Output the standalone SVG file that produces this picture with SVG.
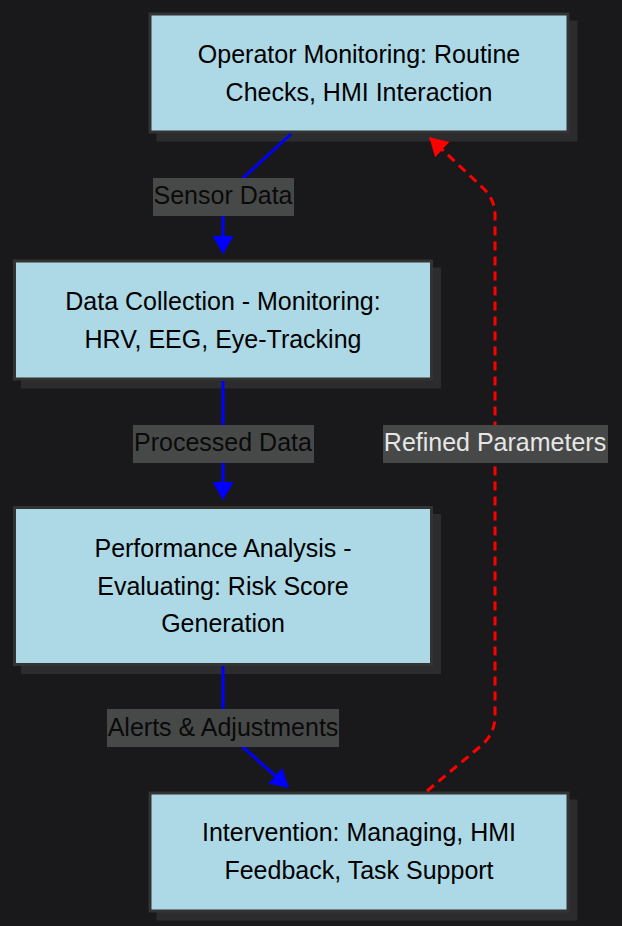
<svg xmlns="http://www.w3.org/2000/svg" width="622" height="926" viewBox="0 0 622 926">
<style>
.bg{fill:#19191b}
.shadow{fill:#2c2c2e}
.node{fill:#add8e6;stroke:#333;stroke-width:3}
.nt{font-family:"Liberation Sans",Arial,sans-serif;font-size:25px;fill:#000;text-anchor:middle}
.lbox{fill:#474948}
.lt{font-family:"Liberation Sans",Arial,sans-serif;font-size:25px;fill:#0a0a0a;text-anchor:middle}
.lt2{fill:#e6e6e6}
.blue{fill:none;stroke:#0000ff;stroke-width:3}
.red{fill:none;stroke:#ff0000;stroke-width:3;stroke-dasharray:9,6}
</style>
<defs>
<marker id="ab" markerUnits="userSpaceOnUse" markerWidth="20" markerHeight="22" refX="17" refY="10.5" orient="auto"><path d="M0,0 L18,10.5 L0,21 z" fill="#0000ff"/></marker>
<marker id="ar" markerUnits="userSpaceOnUse" markerWidth="20" markerHeight="22" refX="17" refY="10.5" orient="auto"><path d="M0,0 L18,10.5 L0,21 z" fill="#ff0000"/></marker>
</defs>
<rect class="bg" x="0" y="0" width="622" height="926"/>
<g id="node-operator">
<rect class="shadow" x="156.5" y="20.5" width="421" height="121"/>
<rect class="node" x="150" y="14" width="418" height="118"/>
<text class="nt" x="359" y="63">Operator Monitoring: Routine</text>
<text class="nt" x="359" y="101">Checks, HMI Interaction</text>
</g>
<g id="node-collection">
<rect class="shadow" x="21" y="267.5" width="420" height="121"/>
<rect class="node" x="14.5" y="261" width="417" height="118"/>
<text class="nt" x="223" y="310">Data Collection - Monitoring:</text>
<text class="nt" x="223" y="348">HRV, EEG, Eye-Tracking</text>
</g>
<g id="node-analysis">
<rect class="shadow" x="21" y="514" width="420" height="160"/>
<rect class="node" x="14.5" y="507.5" width="417" height="157"/>
<text class="nt" x="223" y="557">Performance Analysis -</text>
<text class="nt" x="223" y="595">Evaluating: Risk Score</text>
<text class="nt" x="223" y="632">Generation</text>
</g>
<g id="node-intervention">
<rect class="shadow" x="156.5" y="799.5" width="421" height="121"/>
<rect class="node" x="150" y="793" width="418" height="118"/>
<text class="nt" x="359" y="841">Intervention: Managing, HMI</text>
<text class="nt" x="359" y="879">Feedback, Task Support</text>
</g>
<g id="connectors">
<path class="blue" d="M291,134 L229,191 Q223,197 223,205 L223,253" marker-end="url(#ab)"/>
<path class="blue" d="M223,381 L223,499" marker-end="url(#ab)"/>
<path class="blue" d="M223,666 L223,722 Q223,730 229,735 L288,787" marker-end="url(#ab)"/>
<path class="red" d="M427,791 L482,745 Q495,733 495,716 L495,215 Q495,200 484,189 L430,138" marker-end="url(#ar)"/>
<g id="label-sensor"><rect class="lbox" x="153" y="178" width="141" height="38"/><text class="lt" x="223" y="204">Sensor Data</text></g>
<g id="label-processed"><rect class="lbox" x="133" y="425" width="181" height="38"/><text class="lt" x="223" y="451">Processed Data</text></g>
<g id="label-alerts"><rect class="lbox" x="107" y="709" width="232" height="38"/><text class="lt" x="223" y="736">Alerts &amp; Adjustments</text></g>
<g id="label-refined"><rect class="lbox" x="383" y="425" width="225" height="38"/><text class="lt lt2" x="495" y="451">Refined Parameters</text></g>
</g>
</svg>
